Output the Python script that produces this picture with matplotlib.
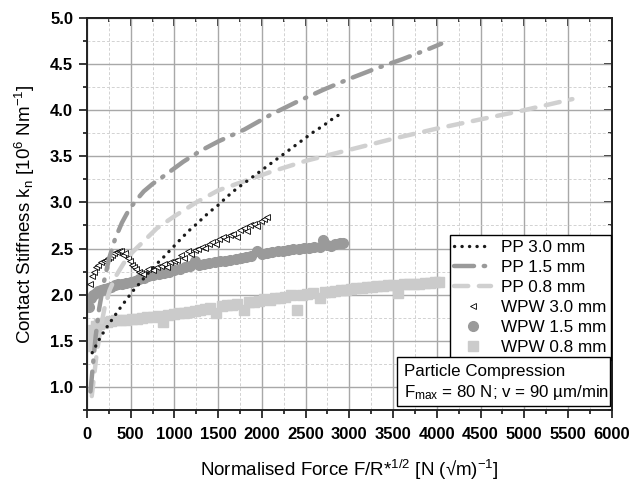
import matplotlib
matplotlib.use('Agg')
import matplotlib.pyplot as plt
from matplotlib.patches import Rectangle
from matplotlib.ticker import MultipleLocator, NullFormatter

plt.rcParams['font.family'] = ['Liberation Sans', 'DejaVu Sans']
plt.rcParams['mathtext.fontset'] = 'custom'
plt.rcParams['mathtext.rm'] = 'Liberation Sans'
plt.rcParams['mathtext.it'] = 'Liberation Sans'

# PP curves (lines)
pp30_x = [60, 105, 150, 195, 250, 310, 360, 415, 470, 535, 600, 670, 735, 805, 880, 950, 1030, 1100,
          1185, 1260, 1335, 1420, 1500, 1600, 1700, 1800, 1900, 2000, 2100, 2200, 2300, 2400, 2500,
          2600, 2700, 2800, 2900]
pp30_y = [1.37, 1.45, 1.53, 1.60, 1.68, 1.76, 1.83, 1.90, 1.97, 2.05, 2.12, 2.20, 2.27, 2.34, 2.41, 2.48,
          2.56, 2.63, 2.71, 2.77, 2.84, 2.91, 2.97, 3.06, 3.14, 3.21, 3.28, 3.35, 3.42, 3.49, 3.56, 3.63,
          3.70, 3.77, 3.83, 3.90, 3.96]

pp15_x = [40, 70, 100, 140, 190, 250, 320, 400, 480, 560, 650, 750, 900, 1100, 1300, 1500, 1800, 2100,
          2400, 2700, 3000, 3300, 3600, 3900, 4050]
pp15_y = [0.95, 1.25, 1.55, 1.85, 2.12, 2.38, 2.60, 2.78, 2.92, 3.02, 3.12, 3.20, 3.30, 3.44, 3.56, 3.66,
          3.79, 3.95, 4.09, 4.22, 4.34, 4.45, 4.55, 4.66, 4.72]

pp08_x = [55, 80, 110, 150, 200, 260, 330, 420, 520, 650, 800, 1000, 1250, 1500, 1800, 2100, 2500, 3000,
          3500, 4000, 4500, 5000, 5550]
pp08_y = [0.90, 1.10, 1.35, 1.60, 1.85, 2.05, 2.20, 2.34, 2.46, 2.58, 2.72, 2.85, 3.00, 3.13, 3.23, 3.33,
          3.45, 3.57, 3.69, 3.80, 3.90, 4.00, 4.12]

# WPW measurements (markers)
wpw30_x = [30, 55, 80, 105, 130, 160, 190, 215, 240, 265, 290, 315, 340, 365, 390, 415, 440, 465, 490, 515,
           540, 565, 590, 615, 640, 700, 750, 800, 850, 880, 910, 950, 990, 1030, 1070, 1110, 1150, 1190,
           1230, 1270, 1310, 1350, 1390, 1430, 1470, 1510, 1550, 1590, 1630, 1670, 1710, 1750, 1790, 1830,
           1870, 1910, 1950, 1990, 2030, 2060]
wpw30_y = [2.12, 2.20, 2.25, 2.30, 2.32, 2.35, 2.36, 2.38, 2.40, 2.41, 2.43, 2.45, 2.46, 2.47, 2.47, 2.43,
           2.45, 2.40, 2.36, 2.32, 2.30, 2.28, 2.25, 2.24, 2.22, 2.28, 2.27, 2.30, 2.31, 2.33, 2.30, 2.35,
           2.37, 2.38, 2.43, 2.40, 2.47, 2.44, 2.48, 2.50, 2.52, 2.51, 2.55, 2.57, 2.55, 2.60, 2.62, 2.60,
           2.65, 2.66, 2.63, 2.70, 2.72, 2.69, 2.75, 2.77, 2.74, 2.80, 2.82, 2.84]

wpw15_x = [20, 45, 70, 100, 130, 165, 200, 240, 280, 320, 360, 400, 450, 500, 550, 600, 650, 700, 760, 820,
           880, 940, 1000, 1060, 1120, 1180, 1230, 1280, 1340, 1400, 1460, 1520, 1580, 1640, 1700, 1760,
           1820, 1880, 1940, 2000, 2060, 2120, 2180, 2240, 2300, 2360, 2420, 2480, 2540, 2600, 2660, 2700,
           2740, 2790, 2840, 2890, 2930]
wpw15_y = [1.87, 1.96, 2.00, 2.02, 2.04, 2.05, 2.06, 2.07, 2.08, 2.10, 2.11, 2.12, 2.13, 2.14, 2.15, 2.17,
           2.18, 2.20, 2.21, 2.22, 2.24, 2.25, 2.27, 2.28, 2.30, 2.31, 2.36, 2.32, 2.33, 2.34, 2.35, 2.36,
           2.37, 2.38, 2.39, 2.40, 2.41, 2.42, 2.47, 2.44, 2.45, 2.46, 2.47, 2.47, 2.48, 2.49, 2.50, 2.51,
           2.51, 2.52, 2.52, 2.59, 2.54, 2.53, 2.55, 2.56, 2.56]

wpw08_x = [20, 45, 70, 100, 140, 180, 230, 280, 330, 390, 450, 510, 570, 630, 690, 750, 810, 870, 930, 990,
           1050, 1110, 1170, 1230, 1290, 1350, 1410, 1480, 1540, 1600, 1660, 1720, 1790, 1850, 1910, 1970,
           2030, 2090, 2150, 2210, 2270, 2330, 2400, 2460, 2520, 2590, 2660, 2720, 2780, 2840, 2900, 2960,
           3020, 3080, 3140, 3200, 3260, 3320, 3380, 3440, 3500, 3560, 3620, 3680, 3740, 3800, 3860, 3920,
           3980, 4030]
wpw08_y = [1.44, 1.55, 1.62, 1.66, 1.68, 1.69, 1.70, 1.71, 1.72, 1.72, 1.73, 1.74, 1.74, 1.75, 1.76, 1.76,
           1.77, 1.70, 1.78, 1.79, 1.80, 1.80, 1.81, 1.82, 1.83, 1.84, 1.85, 1.80, 1.88, 1.89, 1.89, 1.90,
           1.83, 1.92, 1.92, 1.93, 1.95, 1.94, 1.96, 1.96, 1.97, 2.00, 1.83, 2.00, 2.01, 2.02, 1.96, 2.03,
           2.03, 2.04, 2.05, 2.05, 2.06, 2.07, 2.07, 2.08, 2.08, 2.09, 2.09, 2.10, 2.10, 2.02, 2.11, 2.11,
           2.12, 2.12, 2.13, 2.13, 2.14, 2.14]

x_ticks = list(range(0, 6001, 500))
y_ticks = [1.0, 1.5, 2.0, 2.5, 3.0, 3.5, 4.0, 4.5, 5.0]

fig = plt.figure(figsize=(6.3, 4.84), dpi=100)
ax = fig.add_axes([0.138, 0.153, 0.833, 0.81])

# grid
ax.xaxis.set_major_locator(MultipleLocator(500))
ax.xaxis.set_minor_locator(MultipleLocator(250))
ax.yaxis.set_major_locator(MultipleLocator(0.5))
ax.yaxis.set_minor_locator(MultipleLocator(0.25))
ax.grid(True, which='major', color='#a8a8a8', lw=1.0, ls='-')
ax.grid(True, which='minor', color='#d2d2d2', lw=0.7, ls=(0, (3, 2)))
ax.set_axisbelow(True)

# markers
ax.plot(wpw08_x, wpw08_y, ls='none', marker='s', ms=6.5, mfc='#cbcbcb', mec='#cbcbcb', label='WPW 0.8 mm', zorder=2)
ax.plot(wpw15_x, wpw15_y, ls='none', marker='o', ms=7, mfc='#9a9a9a', mec='#9a9a9a', label='WPW 1.5 mm', zorder=2)
ax.plot(wpw30_x, wpw30_y, ls='none', marker='<', ms=4.5, mfc='white', mec='black', mew=0.6, label='WPW 3.0 mm', zorder=3)

# lines
ax.plot(pp08_x, pp08_y, color='#d0d0d0', lw=3.2, ls=(0, (3.2, 2.4)), dash_capstyle='round', label='PP 0.8 mm', zorder=4)
ax.plot(pp15_x, pp15_y, color='#9a9a9a', lw=3.2, ls=(0, (4.5, 2.2, 0.3, 2.2)), dash_capstyle='round', label='PP 1.5 mm', zorder=4)
ax.plot(pp30_x, pp30_y, color='#1a1a1a', lw=2.4, ls=(0, (0.05, 2.2)), dash_capstyle='round', label='PP 3.0 mm', zorder=5)

ax.set_xlim(0, 6000)
ax.set_ylim(0.75, 5.0)

for s in ax.spines.values():
    s.set_linewidth(1.4)
    s.set_color('#222222')

# bottom/left ticks point out, top/right point in
ax.tick_params(which='both', direction='out', width=1.1)
ax.tick_params(which='major', length=6)
ax.tick_params(which='minor', length=3)
ax.tick_params(axis='x', pad=6)
ax.tick_params(axis='y', pad=4)
ax.set_xticks(x_ticks)
ax.set_xticklabels([str(v) for v in x_ticks], fontweight='bold', fontsize=12)
ax.set_yticks(y_ticks)
ax.set_yticklabels(['%.1f' % v for v in y_ticks], fontweight='bold', fontsize=12)

top = ax.secondary_xaxis('top')
top.set_xticks(x_ticks)
top.xaxis.set_minor_locator(MultipleLocator(250))
top.xaxis.set_major_formatter(NullFormatter())
top.tick_params(which='both', direction='in', width=1.1)
top.tick_params(which='major', length=6)
top.tick_params(which='minor', length=3)
top.spines['top'].set_linewidth(1.4)

right = ax.secondary_yaxis('right')
right.set_yticks(y_ticks)
right.yaxis.set_minor_locator(MultipleLocator(0.25))
right.yaxis.set_major_formatter(NullFormatter())
right.tick_params(which='both', direction='in', width=1.1)
right.tick_params(which='major', length=6)
right.tick_params(which='minor', length=3)
right.spines['right'].set_linewidth(1.4)

ax.set_xlabel('Normalised Force F/R*$^{\\mathregular{1/2}}$ [N (\u221am)$^{\\mathregular{-1}}$]', fontsize=13.5, labelpad=12)
ax.set_ylabel('Contact Stiffness k$_{\\mathregular{n}}$ [10$^{\\mathregular{6}}$ Nm$^{\\mathregular{-1}}$]', fontsize=13.5, labelpad=9)

handles, labels = ax.get_legend_handles_labels()
order = [5, 4, 3, 2, 1, 0]
leg = ax.legend([handles[i] for i in order], [labels[i] for i in order], loc='upper left',
                bbox_to_anchor=(0.692, 0.445), fontsize=12.3, frameon=True, fancybox=False,
                edgecolor='black', framealpha=1, borderpad=0.25, labelspacing=0.3,
                handlelength=2.15, handletextpad=0.6, numpoints=1, borderaxespad=0)
leg.get_frame().set_linewidth(1.0)
leg.set_zorder(10)

box = Rectangle((0.590, 0.010), 0.406, 0.125, transform=ax.transAxes, facecolor='white',
                edgecolor='black', lw=1.0, zorder=11)
ax.add_patch(box)
ax.text(0.605, 0.097, 'Particle Compression', transform=ax.transAxes, fontsize=12.2,
        va='center', ha='left', zorder=12)
ax.text(0.605, 0.045, 'F$_{\\mathregular{max}}$ = 80 N; v = 90 \u00b5m/min', transform=ax.transAxes,
        fontsize=12.2, va='center', ha='left', zorder=12)

fig.savefig('out.png', dpi=100)
